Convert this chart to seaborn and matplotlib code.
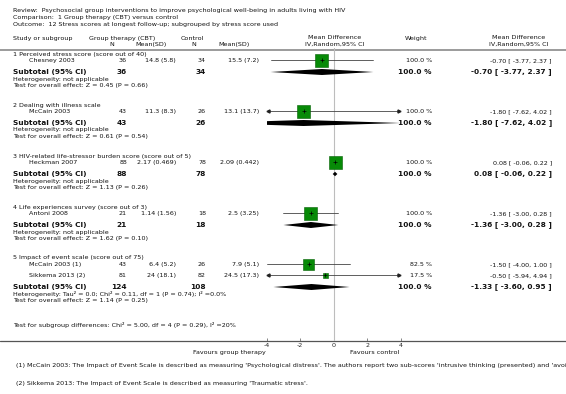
import numpy as np
import pandas as pd
import matplotlib
matplotlib.use("Agg")
import matplotlib.pyplot as plt
import seaborn as sns

# ---- data ----
title_lines = ["Review:  Psychosocial group interventions to improve psychological well-being in adults living with HIV",
               "Comparison:  1 Group therapy (CBT) versus control",
               "Outcome:  12 Stress scores at longest follow-up; subgrouped by stress score used"]

group_names = ["1 Perceived stress score (score out of 40)",
               "2 Dealing with illness scale",
               "3 HIV-related life-stressor burden score (score out of 5)",
               "4 Life experiences survey (score out of 3)",
               "5 Impact of event scale (score out of 75)"]

study_names = ["Chesney 2003", "McCain 2003", "Heckman 2007", "Antoni 2008", "McCain 2003 (1)", "Sikkema 2013 (2)"]
study_group = [0, 1, 2, 3, 4, 4]
n_tx = [36, 43, 88, 21, 43, 81]
mean_tx = [14.8, 11.3, 2.17, 1.14, 6.4, 24]
sd_tx = [5.8, 8.3, 0.469, 1.56, 5.2, 18.1]
n_ct = [34, 26, 78, 18, 26, 82]
mean_ct = [15.5, 13.1, 2.09, 2.5, 7.9, 24.5]
sd_ct = [7.2, 13.7, 0.442, 3.25, 5.1, 17.3]
md = [-0.70, -1.80, 0.08, -1.36, -1.50, -0.50]
ci_lo = [-3.77, -7.62, -0.06, -3.00, -4.00, -5.94]
ci_hi = [2.37, 4.02, 0.22, 0.28, 1.00, 4.94]
weight = [100.0, 100.0, 100.0, 100.0, 82.5, 17.5]

sub_n_tx = [36, 43, 88, 21, 124]
sub_n_ct = [34, 26, 78, 18, 108]
sub_md = [-0.70, -1.80, 0.08, -1.36, -1.33]
sub_lo = [-3.77, -7.62, -0.06, -3.00, -3.60]
sub_hi = [2.37, 4.02, 0.22, 0.28, 0.95]
heterogeneity = ["not applicable"] * 4 + ["Tau² = 0.0; Chi² = 0.11, df = 1 (P = 0.74); I² =0.0%"]
overall = ["Z = 0.45 (P = 0.66)", "Z = 0.61 (P = 0.54)", "Z = 1.13 (P = 0.26)",
           "Z = 1.62 (P = 0.10)", "Z = 1.14 (P = 0.25)"]
subgroup_test = "Test for subgroup differences: Chi² = 5.00, df = 4 (P = 0.29), I² =20%"
# footnote 1 is cut at the page edge in the source, keep what is visible
footnotes = ["(1) McCain 2003: The Impact of Event Scale is described as measuring 'Psychological distress'. The authors report two sub-scores 'intrusive thinking (presented) and 'avoi",
             "(2) Sikkema 2013: The Impact of Event Scale is described as measuring 'Traumatic stress'."]
x_ticks = [-4, -2, 0, 2, 4]

# ---- style ----
sns.set_style("white")
plt.rcParams["font.family"] = ["DejaVu Sans"]
plt.rcParams["axes.unicode_minus"] = False
SMALL = 4.6
BOLD = 5.3
GREEN = "#078a07"
W, H = 566, 394

fig = plt.figure(figsize=(W / 100, H / 100), dpi=100)
bg = fig.add_axes([0, 0, 1, 1])
bg.set_xlim(0, W)
bg.set_ylim(H, 0)
bg.axis("off")

def txt(x, y, s, ha="left", size=SMALL, bold=False):
    bg.text(x, y, s, ha=ha, va="center", fontsize=size,
            fontweight="bold" if bold else "normal", color="#111111", clip_on=False)

for i, line in enumerate(title_lines):
    txt(13, 10 + i * 7, line)

txt(13, 38, "Study or subgroup")
txt(122, 38, "Group therapy (CBT)", ha="center")
txt(112, 44, "N", ha="center")
txt(151, 44, "Mean(SD)", ha="center")
txt(192, 38, "Control", ha="center")
txt(194, 44, "N", ha="center")
txt(234, 44, "Mean(SD)", ha="center")
txt(335, 37.5, "Mean Difference", ha="center")
txt(335, 44, "IV,Random,95% CI", ha="center")
txt(416, 38, "Weight", ha="center")
txt(519, 37.5, "Mean Difference", ha="center")
txt(519, 44, "IV,Random,95% CI", ha="center")
bg.plot([0, W], [49.5, 49.5], color="#8a8a8a", lw=1.2)
bg.plot([0, W], [340.5, 340.5], color="#555555", lw=0.9)

# ---- row layout ----
study_row = []
sub_row = []
y = 54
for g, name in enumerate(group_names):
    txt(13, y, name)
    y += 6.5
    idx = [i for i, sg in enumerate(study_group) if sg == g]
    for k, i in enumerate(idx):
        if k > 0:
            y += 11
        study_row.append(y)
        txt(29, y, study_names[i])
        txt(127, y, f"{n_tx[i]}", ha="right")
        txt(176, y, f"{mean_tx[i]:g} ({sd_tx[i]:g})", ha="right")
        txt(206, y, f"{n_ct[i]}", ha="right")
        txt(259, y, f"{mean_ct[i]:g} ({sd_ct[i]:g})", ha="right")
        txt(432, y, f"{weight[i]:.1f} %", ha="right")
        txt(552, y, f"{md[i]:.2f} [ {ci_lo[i]:.2f}, {ci_hi[i]:.2f} ]", ha="right")
    y += 11.5
    sub_row.append(y)
    txt(13, y, "Subtotal (95% CI)", size=BOLD, bold=True)
    txt(127, y, f"{sub_n_tx[g]}", ha="right", size=BOLD, bold=True)
    txt(206, y, f"{sub_n_ct[g]}", ha="right", size=BOLD, bold=True)
    txt(432, y, "100.0 %", ha="right", size=BOLD, bold=True)
    txt(552, y, f"{sub_md[g]:.2f} [ {sub_lo[g]:.2f}, {sub_hi[g]:.2f} ]", ha="right", size=BOLD, bold=True)
    txt(13, y + 7, "Heterogeneity: " + heterogeneity[g])
    txt(13, y + 13.5, "Test for overall effect: " + overall[g])
    y += 13.5 + 19.5

txt(13, 324.5, subgroup_test)
txt(266, 352.5, "Favours group therapy", ha="right")
txt(399, 352.5, "Favours control", ha="right")
txt(16, 366, footnotes[0])
txt(16, 383.5, footnotes[1])

# ---- forest panel ----
x0, x1 = 266.7, 400.7
ax = fig.add_axes([x0 / W, (H - 340.5) / H, (x1 - x0) / W, (340.5 - 48) / H])
ax.set_facecolor("none")
ax.set_xlim(-4, 4)
ax.set_ylim(340.5, 48)
ax.axvline(0, color="#bdbdbd", lw=0.8, zorder=1)

for i in range(len(study_names)):
    lo, hi = max(ci_lo[i], -4), min(ci_hi[i], 4)
    ax.plot([lo, hi], [study_row[i]] * 2, color="#444444", lw=0.6, zorder=2)
    if ci_lo[i] < -4:
        ax.plot(-3.93, study_row[i], marker="<", ms=2.2, color="#222222", clip_on=False, zorder=2)
    if ci_hi[i] > 4:
        ax.plot(3.9, study_row[i], marker=">", ms=2.2, color="#222222", clip_on=False, zorder=2)

df = pd.DataFrame({"md": md, "row": study_row, "weight": weight})
sns.scatterplot(data=df, x="md", y="row", size="weight", sizes=(12, 88), size_norm=(17.5, 100),
                marker="s", color=GREEN, edgecolor="#056005", linewidth=0.4,
                legend=False, ax=ax, zorder=3)
ax.plot(md, study_row, "+", color="black", ms=2.5, mew=0.5, ls="none", zorder=4)

for g in range(len(group_names)):
    yc = sub_row[g]
    h = 3.0 if sub_hi[g] - sub_lo[g] > 1 else 2.2
    ax.fill([sub_lo[g], sub_md[g], sub_hi[g], sub_md[g]], [yc, yc - h, yc, yc + h],
            color="black", lw=0, zorder=3)

ax.set_xticks(x_ticks)
ax.set_xticklabels([str(t) for t in x_ticks])
ax.set_yticks([])
ax.tick_params(axis="x", direction="in", length=2, width=0.5, color="#555555",
               labelsize=SMALL, pad=1.5, bottom=True)
for s in ax.spines.values():
    s.set_visible(False)
ax.set_xlabel("")
ax.set_ylabel("")

fig.savefig("out.png", dpi=100)
